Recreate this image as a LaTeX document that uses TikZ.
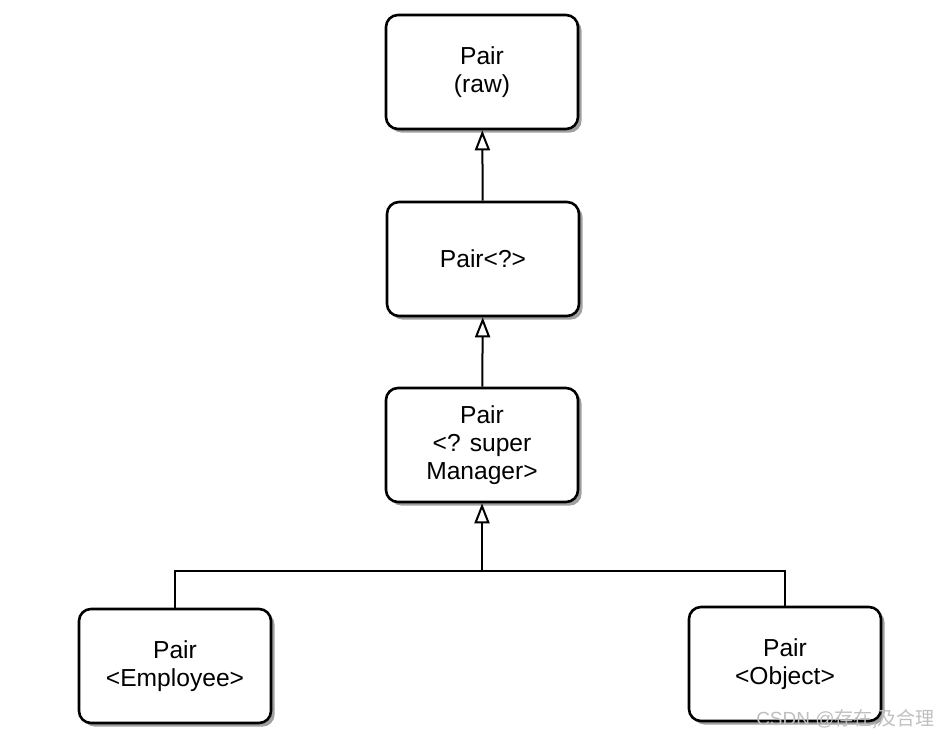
\documentclass[tikz,border=0pt]{standalone}
\usepackage{fontspec}
\setmainfont{Liberation Sans}
\newfontfamily\cjk{Noto Sans CJK SC}
\usetikzlibrary{shadows,arrows.meta}

\begin{document}
\begin{tikzpicture}[x=0.5pt,y=-0.5pt,
pairbox/.style={draw,line width=1.3pt,rounded corners=6pt,fill=white,
  minimum width=96pt,minimum height=57pt,align=center,
  font=\fontsize{12.3}{14}\selectfont,
  drop shadow={shadow xshift=1.8pt,shadow yshift=-1.8pt,opacity=.75}},
inherit/.style={line width=1pt,-{Triangle[open,length=10pt,width=7.5pt,line width=1pt]}},
branch/.style={line width=1pt}]

\useasboundingbox (0,0) rectangle (952,737);

\node[pairbox] (raw) at (482,72) {Pair\\(raw)};
\node[pairbox] (wild) at (483,259) {Pair<?>};
\node[pairbox] (super) at (482,445) {Pair\\<? super\\Manager>};
\node[pairbox] (emp) at (175,666) {Pair\\<Employee>};
\node[pairbox] (obj) at (785,664) {Pair\\<Object>};

\coordinate (fork) at (482,571);

\draw[inherit] (wild) -- (raw);
\draw[inherit] (super) -- (wild);
\draw[inherit] (fork) -- (super);
\draw[branch] (emp.north) |- (fork) -| (obj.north);

% watermark
\node[anchor=east,text=black!25,font=\fontsize{9.5}{11}\selectfont] (mark) at (942,719) {CSDN @{\cjk 存在,及合理}};

\end{tikzpicture}
\end{document}
